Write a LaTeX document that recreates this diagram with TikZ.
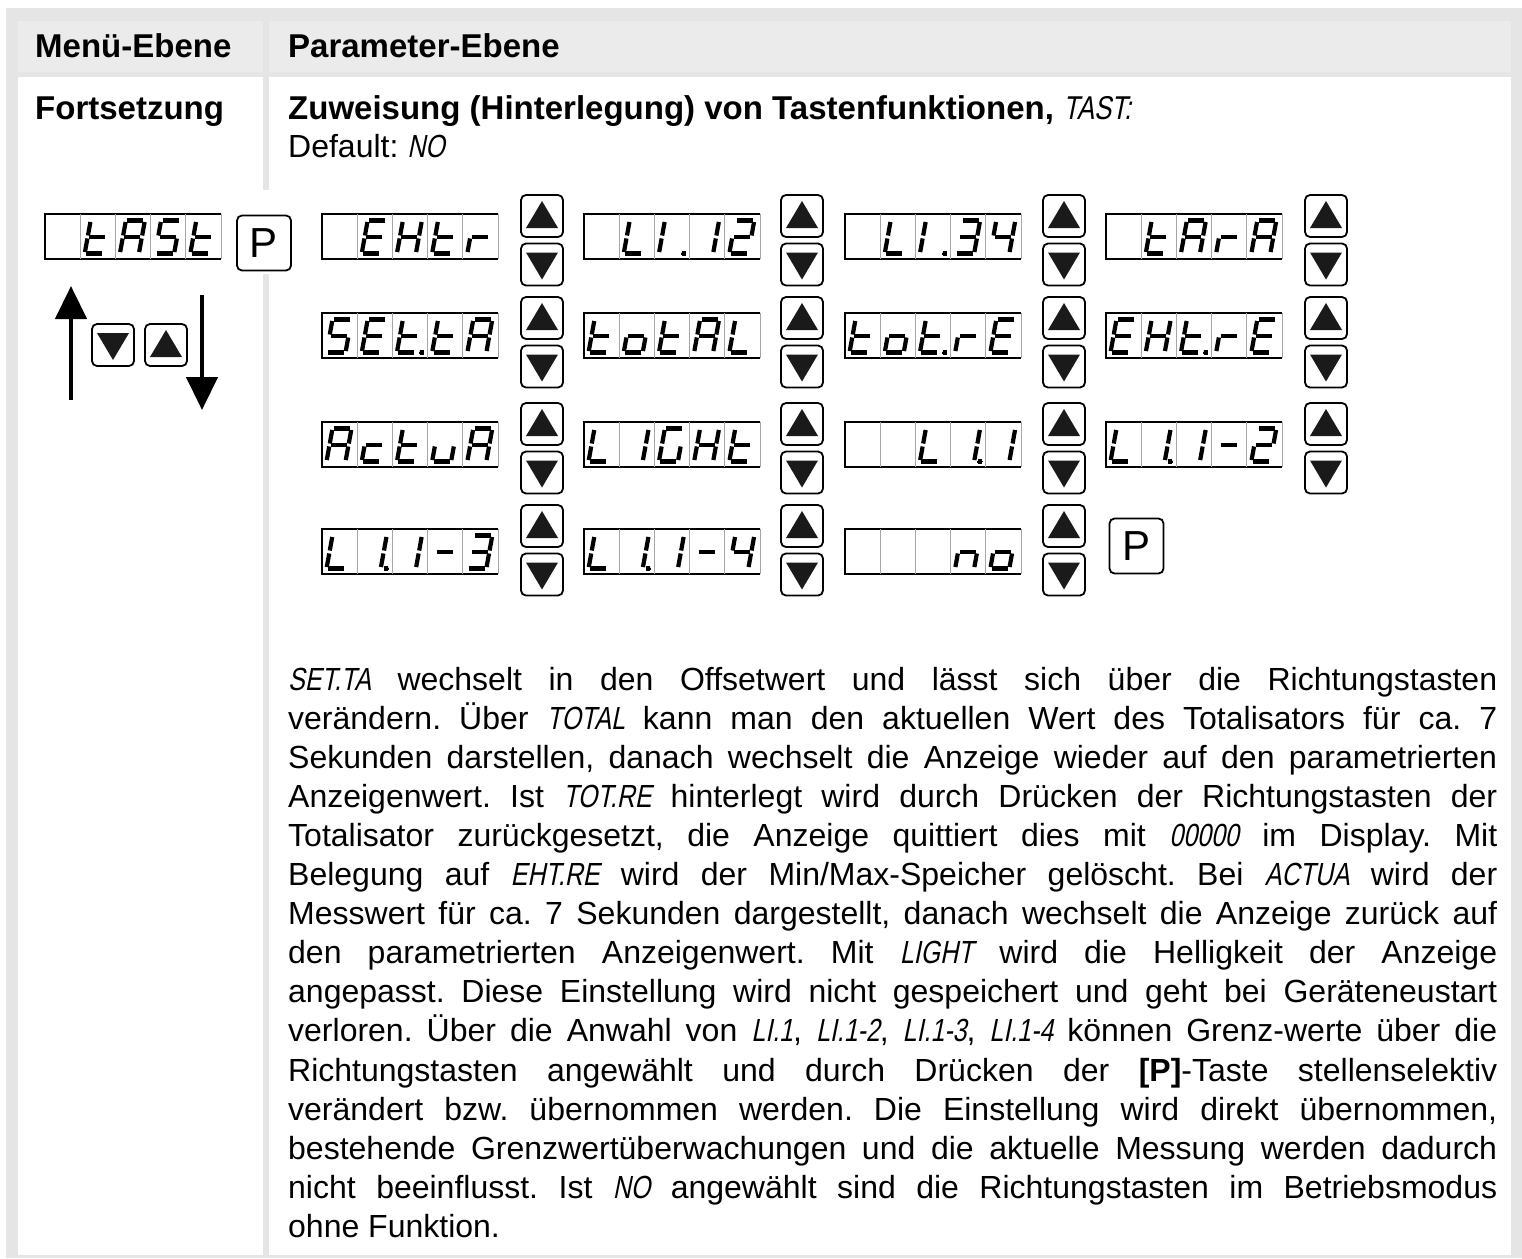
\documentclass[tikz,border=0pt]{standalone}
\usepackage{fontspec}
\setmainfont{Liberation Sans}
\newfontfamily\segfont[FakeStretch=0.78,FakeSlant=0.2]{Liberation Sans}
\usetikzlibrary{arrows.meta,positioning}

\definecolor{framegray}{HTML}{E5E5E5}
\definecolor{headgray}{HTML}{EBEBEB}
\definecolor{keyblack}{HTML}{1A1A1A}

% display words inside the running text
\newcommand\sg[1]{{\segfont\mdseries #1}}
\newlength\bodywidth
\setlength\bodywidth{1209pt}
\newcommand\fullline[1]{\makebox[\bodywidth][s]{#1}}

% lit segments of each display character (a..g, p = decimal point)
\newcommand\defglyph[2]{\expandafter\def\csname sg@#1\endcsname{#2}}
\defglyph{_}{none}
\defglyph{t}{d,e,f,g}
\defglyph{t.}{d,e,f,g,p}
\defglyph{A}{a,b,c,e,f,g}
\defglyph{S}{a,c,d,f,g}
\defglyph{E}{a,d,e,f,g}
\defglyph{H}{b,c,e,f,g}
\defglyph{r}{e,g}
\defglyph{L}{d,e,f}
\defglyph{I.}{e,f,p}
\defglyph{1}{b,c}
\defglyph{1.}{b,c,p}
\defglyph{2}{a,b,d,e,g}
\defglyph{3}{a,b,c,d,g}
\defglyph{4}{b,c,f,g}
\defglyph{o}{c,d,e,g}
\defglyph{c}{d,e,g}
\defglyph{u}{c,d,e}
\defglyph{G}{a,c,d,e,f}
\defglyph{n}{c,e,g}
\defglyph{-}{g}

% \segdisp{name}{left}{top}{cells}
\newcommand\segdisp[4]{%
  \node[disp] (#1) at (#2,#3) {};
  \draw[dispframe] (#1.north east) -- (#1.north west) -- (#1.south west) -- (#1.south east);
  \foreach \dc [count=\k from 0] in {#4} {
    \draw[celldiv] ({#2+35.2*(\k+1)},#3) -- ({#2+35.2*(\k+1)},{#3+45});
    \edef\seglist{\csname sg@\dc\endcsname}
    \begin{scope}[shift={({#2+35.2*\k+4.5},{#3+39.5})}, x={(19pt,0pt)}, y={(6pt,33pt)}]
      \foreach \g in \seglist {\draw[segline, seg \g];}
    \end{scope}
  }
}

\begin{document}
\begin{tikzpicture}[
  x=1pt, y=-1pt,
  font=\fontsize{32}{39.1}\selectfont,
  txt/.style={inner sep=0pt, anchor=base west},
  head/.style={txt, font=\fontsize{33}{39}\selectfont\bfseries},
  disp/.style={anchor=north west, minimum width=176pt, minimum height=45pt, inner sep=0pt, outer sep=0pt},
  dispframe/.style={line width=1.3pt},
  celldiv/.style={line width=0.9pt, black!35},
  segline/.style={line width=4.2pt, shorten <=1.5pt, shorten >=1.5pt},
  seg a/.style={insert path={(0,1) -- (1,1)}},
  seg b/.style={insert path={(1,1) -- (1,.5)}},
  seg c/.style={insert path={(1,.5) -- (1,0)}},
  seg d/.style={insert path={(0,0) -- (1,0)}},
  seg e/.style={insert path={(0,.5) -- (0,0)}},
  seg f/.style={insert path={(0,1) -- (0,.5)}},
  seg g/.style={insert path={(0,.5) -- (1,.5)}},
  seg p/.style={line width=0pt, fill, shorten <=0pt, shorten >=0pt, insert path={(1.3,0) circle[radius=2.2pt]}},
  seg none/.style={},
  key/.style={draw, line width=1.8pt, rounded corners=5pt, fill=white, minimum width=42pt, minimum height=42pt, inner sep=0pt},
  pkey/.style={key, minimum width=54pt, minimum height=55pt, font=\fontsize{42}{42}\selectfont},
  tri/.style={fill=keyblack},
  bigarrow/.style={line width=4.5pt, -{Triangle[width=31pt,length=33pt]}},
  upkey/.pic={\node[key] (-k) {}; \fill[tri] (-16,12) -- (16,12) -- (0,-15) -- cycle;},
  downkey/.pic={\node[key] (-k) {}; \fill[tri] (-16,-12) -- (16,-12) -- (0,15) -- cycle;}
]
\useasboundingbox (0,0) rectangle (1522,1258);
\frenchspacing

% ---- table frame ----
\fill[framegray] (6,8) rectangle (1522,1258);
\fill[headgray] (18,21) rectangle (263,72);
\fill[headgray] (269,21) rectangle (1511,72);
\fill[white] (18,77) rectangle (263,1255);
\fill[white] (269,77) rectangle (1511,1255);

% ---- header and captions ----
\node[head] (menu) at (35,57) {Menü-Ebene};
\node[head] (param) at (288,57) {Parameter-Ebene};
\node[head] (fort) at (35,119) {Fortsetzung};
\node[head] (title) at (288,119) {Zuweisung (Hinterlegung) von Tastenfunktionen, \sg{TAST:}};
\node[txt] (default) at (288,157) {Default: \sg{NO}};

% ---- menu level: entry display and scroll keys ----
\segdisp{dtast}{45}{214}{_,t,A,S,t}
\fill[white] (237,190) rectangle (291,274);
\node[pkey] (pleft) at (264,243) {P};
\pic (kdn) at (113,345) {downkey};
\pic (kup) at (166,345) {upkey};
\coordinate (upfoot) at (71,400);
\coordinate (uptip) at (71,286);
\coordinate (dnfoot) at (202,295);
\coordinate (dntip) at (202,410);
\draw[bigarrow] (upfoot) -- (uptip);
\draw[bigarrow] (dnfoot) -- (dntip);

% ---- parameter level: selectable key functions ----
\segdisp{dehtr}{322}{214}{_,E,H,t,r}
\segdisp{dli12}{584}{214}{_,L,I.,1,2}
\segdisp{dli34}{845}{214}{_,L,I.,3,4}
\segdisp{dtara}{1106}{214}{_,t,A,r,A}
\segdisp{dsetta}{322}{313}{S,E,t.,t,A}
\segdisp{dtotal}{584}{313}{t,o,t,A,L}
\segdisp{dtotre}{845}{313}{t,o,t.,r,E}
\segdisp{dehtre}{1106}{313}{E,H,t.,r,E}
\segdisp{dactua}{322}{422}{A,c,t,u,A}
\segdisp{dlight}{584}{422}{L,1,G,H,t}
\segdisp{dlone}{845}{422}{_,_,L,1.,1}
\segdisp{dltwo}{1106}{422}{L,1.,1,-,2}
\segdisp{dlthree}{322}{529}{L,1.,1,-,3}
\segdisp{dlfour}{584}{529}{L,1.,1,-,4}
\segdisp{dno}{845}{529}{_,_,_,n,o}

% arrow keys next to every display
\foreach \ux [count=\c] in {542,802,1064,1326} {
  \foreach \uy [count=\r] in {216,318,424,526} {
    \ifnum\numexpr\c*10+\r\relax=44 \else
      \pic (up\r\c) at (\ux,\uy) {upkey};
      \pic (dn\r\c) at (\ux,{\uy+48.5}) {downkey};
    \fi
  }
}
\node[pkey] (pright) at (1136.5,546) {P};

% ---- description ----
\node[txt, text width=\bodywidth, align=justify] (body) at (288,690) {%
\fullline{\sg{SET.TA} wechselt in den Offsetwert und lässt sich über die Richtungstasten}\\
\fullline{verändern. Über \sg{TOTAL} kann man den aktuellen Wert des Totalisators für ca. 7}\\
\fullline{Sekunden darstellen, danach wechselt die Anzeige wieder auf den parametrierten}\\
\fullline{Anzeigenwert. Ist \sg{TOT.RE} hinterlegt wird durch Drücken der Richtungstasten der}\\
\fullline{Totalisator zurückgesetzt, die Anzeige quittiert dies mit \sg{00000} im Display. Mit}\\
\fullline{Belegung auf \sg{EHT.RE} wird der Min/Max-Speicher gelöscht. Bei \sg{ACTUA} wird der}\\
\fullline{Messwert für ca. 7 Sekunden dargestellt, danach wechselt die Anzeige zurück auf}\\
\fullline{den parametrierten Anzeigenwert. Mit \sg{LIGHT} wird die Helligkeit der Anzeige}\\
\fullline{angepasst. Diese Einstellung wird nicht gespeichert und geht bei Geräteneustart}\\
\fullline{verloren. Über die Anwahl von \sg{LI.1}, \sg{LI.1-2}, \sg{LI.1-3}, \sg{LI.1-4} können Grenz-werte über die}\\
\fullline{Richtungstasten angewählt und durch Drücken der \textbf{[P]}-Taste stellenselektiv}\\
\fullline{verändert bzw. übernommen werden. Die Einstellung wird direkt übernommen,}\\
\fullline{bestehende Grenzwertüberwachungen und die aktuelle Messung werden dadurch}\\
\fullline{nicht beeinflusst. Ist \sg{NO} angewählt sind die Richtungstasten im Betriebsmodus}\\
ohne Funktion.};

\end{tikzpicture}
\end{document}
